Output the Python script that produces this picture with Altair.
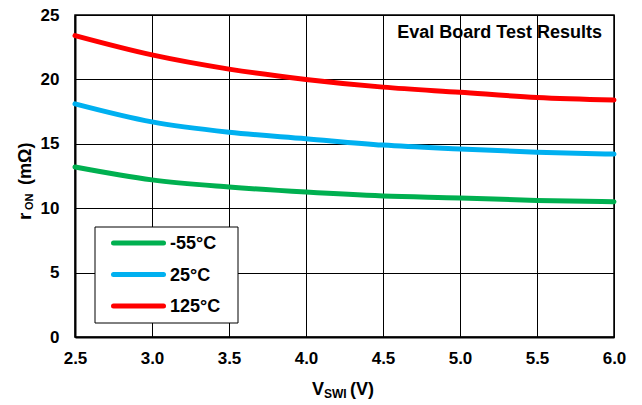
import altair as alt
import pandas as pd

# ---- data ----
x_vals = [2.5, 3.0, 3.5, 4.0, 4.5, 5.0, 5.5, 6.0]
series_labels = ["-55°C", "25°C", "125°C"]
series_colors = ["#00B050", "#00B0F0", "#FF0000"]
r_m55 = [13.2, 12.2, 11.65, 11.25, 10.95, 10.8, 10.6, 10.5]
r_25 = [18.1, 16.7, 15.9, 15.4, 14.9, 14.6, 14.35, 14.2]
r_125 = [23.4, 21.9, 20.8, 20.0, 19.4, 19.0, 18.6, 18.4]
x_ticks = [2.5, 3.0, 3.5, 4.0, 4.5, 5.0, 5.5, 6.0]
y_ticks = [0, 5, 10, 15, 20, 25]
annotation = "Eval Board Test Results"
y_title_main, y_title_sub, y_title_unit = "r", "ON", "(mΩ)"
x_title_main, x_title_sub, x_title_unit = "V", "SWI", "(V)"

FONT = "Liberation Sans"

rows = []
for lab, vals in zip(series_labels, [r_m55, r_25, r_125]):
    for xv, v in zip(x_vals, vals):
        rows.append({"vswi": xv, "ron": v, "series": lab})
df = pd.DataFrame(rows)

color_scale = alt.Scale(domain=series_labels, range=series_colors)

lines = alt.Chart(df).mark_line(
    strokeWidth=5, strokeCap="round", strokeJoin="round", interpolate="monotone"
).encode(
    x=alt.X("vswi:Q",
            scale=alt.Scale(domain=[2.5, 6.0], nice=False, zero=False),
            axis=alt.Axis(values=x_ticks, format=".1f", title=None, labelPadding=13,
                          labelFlush=False, labelOverlap=False)),
    y=alt.Y("ron:Q",
            scale=alt.Scale(domain=[0, 25], nice=False),
            axis=alt.Axis(values=y_ticks, title=None, labelPadding=16,
                          labelFlush=False, labelOverlap=False)),
    color=alt.Color("series:N", scale=color_scale, legend=None),
)

# ---- legend (drawn from the series labels) ----
leg_df = pd.DataFrame({"series": series_labels})
leg_y = alt.Y("series:N",
              scale=alt.Scale(type="point", domain=series_labels, range=[228, 291], padding=0),
              axis=None)

leg_box = alt.Chart(pd.DataFrame({"k": [0]})).mark_rect(
    fill="white", stroke="black", strokeWidth=1
).encode(x=alt.value(20), x2=alt.value(163), y=alt.value(212), y2=alt.value(308))

leg_lines = alt.Chart(leg_df).mark_rule(strokeWidth=5, strokeCap="round").encode(
    x=alt.value(38.5), x2=alt.value(88.5), y=leg_y,
    color=alt.Color("series:N", scale=color_scale, legend=None),
)

leg_text = alt.Chart(leg_df).mark_text(
    align="left", baseline="middle", font=FONT, fontSize=18, fontWeight="bold", color="black", dy=1
).encode(x=alt.value(95), y=leg_y, text="series:N")

# ---- annotation ----
ann = alt.Chart(pd.DataFrame({"t": [annotation]})).mark_text(
    align="right", baseline="alphabetic", font=FONT, fontSize=18, fontWeight="bold", color="black"
).encode(x=alt.value(527), y=alt.value(23), text="t:N")


def label(txt, x, y, size, angle=0):
    mk = dict(align="left", baseline="alphabetic", font=FONT, fontSize=size,
              fontWeight="bold", color="black")
    if angle:
        mk["angle"] = angle
    return alt.Chart(pd.DataFrame({"t": [txt]})).mark_text(**mk).encode(
        x=alt.value(x), y=alt.value(y), text="t:N")


y_title = [
    label(y_title_main, -44, 205, 19, 270),
    label(y_title_sub, -42, 195, 11, 270),
    label(y_title_unit, -44, 170, 18, 270),
]
x_title = [
    label(x_title_main, 237, 380, 18),
    label(x_title_sub, 249, 383, 12),
    label(x_title_unit, 275, 380, 18),
]

chart = alt.layer(
    lines, leg_box, leg_lines, leg_text, ann, *y_title, *x_title
).resolve_scale(
    y="independent"
).properties(
    width=539,
    height=322,
    autosize=alt.AutoSizeParams(type="none"),
    padding={"left": 67, "top": 7, "right": 20, "bottom": 66},
    background="white",
).configure_view(
    stroke="black", strokeWidth=1.5
).configure_axis(
    labelFont=FONT, labelFontSize=17, labelFontWeight="bold", labelColor="black",
    grid=True, gridColor="black", gridWidth=1, gridOpacity=1,
    domainColor="black", domainWidth=2, ticks=False, tickSize=0,
)

chart.save("out.html", embed_options={"renderer": "svg", "actions": False})
